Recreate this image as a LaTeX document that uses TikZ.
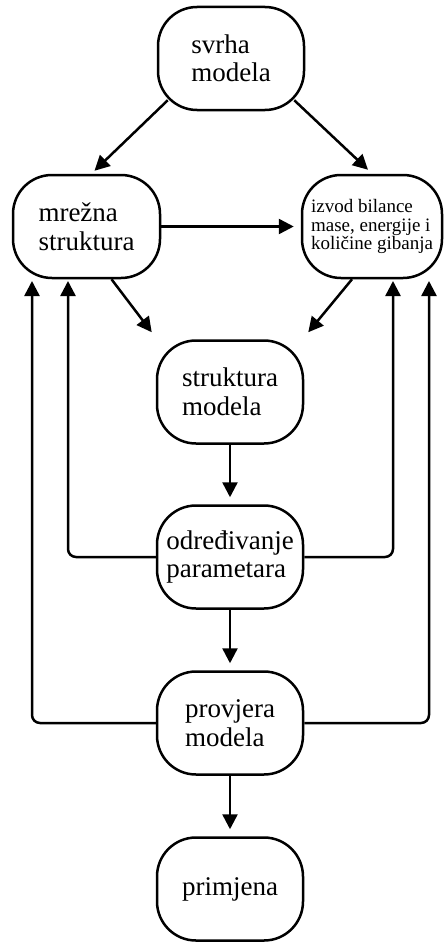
\documentclass[tikz,border=0pt]{standalone}
\usepackage{fontspec}
\setmainfont{Liberation Serif}
\usetikzlibrary{arrows.meta}
\begin{document}
\begin{tikzpicture}[x=1pt,y=1pt,
  box/.style={draw, line width=2.5pt, rounded corners=39pt, minimum width=146pt,
    minimum height=103pt, inner sep=0pt, align=left, font=\fontsize{27}{28.5}\selectfont},
  arr/.style={line width=2.5pt, -{Triangle[length=15pt,width=15pt]}},
  short/.style={shorten >=7pt}]
\useasboundingbox (0,0) rectangle (445,-942);
\node[box] (svrha) at (231,-58.5) {svrha\\modela};
\node[box, minimum width=147pt] (mrezna) at (86.5,-226.5) {mrežna\\struktura};
\node[box, minimum width=140pt, font=\fontsize{19}{18.5}\selectfont] (izvod) at (372,-226.5) {izvod bilance\\mase, energije i\\količine gibanja};
\node[box] (strukt) at (230,-392) {struktura\\modela};
\node[box] (odr) at (230,-557) {određivanje\\parametara};
\node[box] (prov) at (230,-723) {provjera\\modela};
\node[box] (prim) at (230,-889) {primjena};

\coordinate (l1) at (68,-281);
\coordinate (r1) at (393,-281);
\coordinate (l2) at (32,-281);
\coordinate (r2) at (429,-281);

\draw[arr] ([shift={(11,11)}]svrha.south west) -- ([shift={(8,3)}]mrezna.north);
\draw[arr] ([shift={(-11,11)}]svrha.south east) -- ([shift={(-4,4)}]izvod.north);
\draw[arr, short] (mrezna.east) -- (izvod.west);
\draw[arr] ([shift={(25,0)}]mrezna.south) -- ([shift={(-4,7)}]strukt.north west);
\draw[arr] ([shift={(-20,0)}]izvod.south) -- ([shift={(4,7)}]strukt.north east);
\draw[arr, short] (strukt) -- (odr);
\draw[arr, short] (odr) -- (prov);
\draw[arr, short] (prov) -- (prim);
\draw[arr, rounded corners=8pt] (odr.west) -| (l1);
\draw[arr, rounded corners=8pt] (odr.east) -| (r1);
\draw[arr, rounded corners=8pt] (prov.west) -| (l2);
\draw[arr, rounded corners=8pt] (prov.east) -| (r2);
\end{tikzpicture}
\end{document}
